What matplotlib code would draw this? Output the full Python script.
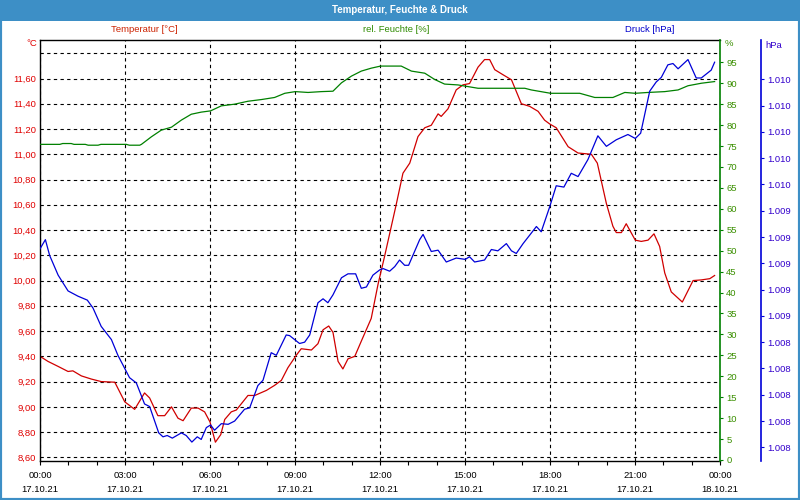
import numpy as np
import matplotlib
matplotlib.use("Agg")
import matplotlib.pyplot as plt
from matplotlib.ticker import MultipleLocator, FuncFormatter
from matplotlib.patches import Rectangle

plt.rcParams['font.family'] = ['Liberation Sans', 'DejaVu Sans']

#------------------------------------------------------------------------------------------
# Messwerte vom 17.10.21 (Zeit in Stunden ab 00:00)
#------------------------------------------------------------------------------------------

temp_hours = [0, 0.28, 0.64, 0.99, 1.16, 1.46, 1.81, 2.16, 2.64, 2.99, 3.34, 3.69, 3.87,
              4.16, 4.40, 4.64, 4.87, 5.05, 5.34, 5.58, 5.81, 6.00, 6.19, 6.38, 6.52,
              6.75, 6.93, 7.34, 7.58, 7.99, 8.28, 8.52, 8.75, 9.05, 9.22, 9.58, 9.81,
              9.99, 10.19, 10.34, 10.52, 10.69, 10.87, 11.11, 11.34, 11.69, 11.93,
              12.16, 12.40, 12.58, 12.81, 13.05, 13.34, 13.58, 13.81, 14.05, 14.16,
              14.40, 14.69, 14.93, 15.16, 15.46, 15.69, 15.87, 16.05, 16.34, 16.64,
              16.99, 17.28, 17.58, 17.81, 17.99, 18.22, 18.64, 18.99, 19.46, 19.67,
              19.99, 20.22, 20.34, 20.52, 20.69, 21.01, 21.22, 21.46, 21.67, 21.87,
              22.05, 22.28, 22.67, 23.05, 23.34, 23.64, 23.81]
temp_values = [9.40, 9.36, 9.32, 9.28, 9.285, 9.245, 9.22, 9.20, 9.195, 9.04, 8.98, 9.11, 9.07,
               8.93, 8.93, 9.00, 8.91, 8.89, 8.99, 8.99, 8.96, 8.88, 8.72, 8.78, 8.90,
               8.96, 8.975, 9.09, 9.09, 9.13, 9.17, 9.21, 9.31, 9.41, 9.46, 9.45, 9.50,
               9.61, 9.64, 9.59, 9.36, 9.30, 9.38, 9.40, 9.52, 9.70, 9.97,
               10.19, 10.43, 10.61, 10.85, 10.93, 11.14, 11.21, 11.23, 11.32, 11.30,
               11.36, 11.51, 11.55, 11.56, 11.69, 11.75, 11.75, 11.67, 11.63, 11.59,
               11.40, 11.38, 11.34, 11.27, 11.24, 11.21, 11.06, 11.01, 11.00, 10.93,
               10.61, 10.43, 10.38, 10.38, 10.45, 10.32, 10.31, 10.32, 10.37, 10.27,
               10.06, 9.91, 9.83, 10.00, 10.005, 10.015, 10.04]

hum_hours = [0, 0.70, 0.80, 1.10, 1.20, 1.60, 1.70, 2.05, 2.15, 3.05, 3.15, 3.52, 3.58,
             3.93, 4.28, 4.64, 4.99, 5.34, 5.69, 6.02, 6.40, 6.87, 7.34, 7.81, 8.28,
             8.64, 9.01, 9.46, 9.93, 10.34, 10.64, 10.99, 11.34, 11.69, 12.02, 12.75,
             13.11, 13.58, 13.93, 14.28, 14.75, 15.46, 17.11, 17.34, 18.02, 19.05,
             19.58, 20.22, 20.64, 21.01, 21.46, 22.05, 22.52, 22.87, 23.34, 23.81]
hum_values = [75.4, 75.4, 75.6, 75.6, 75.4, 75.4, 75.2, 75.2, 75.4, 75.4, 75.2, 75.2, 75.4,
              77.2, 78.8, 79.5, 81.2, 82.6, 83.1, 83.4, 84.6, 85.0, 85.7, 86.1, 86.6,
              87.6, 88.0, 87.8, 88.0, 88.1, 90.1, 91.7, 92.9, 93.6, 94.1, 94.1,
              92.9, 92.4, 90.9, 89.8, 89.6, 88.8, 88.8, 88.4, 87.6, 87.6,
              86.6, 86.6, 87.8, 87.6, 87.8, 88.0, 88.4, 89.4, 90.0, 90.4]

press_hours = [0, 0.19, 0.34, 0.64, 0.99, 1.34, 1.67, 1.87, 2.16, 2.52, 2.75, 3.16, 3.40,
               3.69, 3.87, 4.19, 4.34, 4.49, 4.67, 4.99, 5.16, 5.36, 5.55, 5.69, 5.87,
               6.02, 6.16, 6.40, 6.64, 6.87, 7.22, 7.40, 7.69, 7.87, 8.16, 8.34, 8.69,
               8.81, 9.16, 9.34, 9.52, 9.81, 9.99, 10.16, 10.34, 10.64, 10.87, 11.14,
               11.34, 11.52, 11.75, 11.99, 12.11, 12.34, 12.52, 12.69, 12.87, 13.01,
               13.22, 13.40, 13.52, 13.81, 14.05, 14.34, 14.69, 15.01, 15.16, 15.34,
               15.69, 15.93, 16.16, 16.46, 16.64, 16.81, 17.05, 17.34, 17.52, 17.69,
               17.99, 18.22, 18.49, 18.75, 18.99, 19.34, 19.69, 19.99, 20.34, 20.75,
               21.01, 21.20, 21.52, 21.75, 21.93, 22.16, 22.34, 22.52, 22.87, 23.16,
               23.34, 23.69, 23.81]
press_values = [1009.11, 1009.18, 1009.06, 1008.91, 1008.79, 1008.75, 1008.72, 1008.66,
                1008.52, 1008.42, 1008.30, 1008.13, 1008.09, 1007.93, 1007.91, 1007.71,
                1007.68, 1007.69, 1007.67, 1007.71, 1007.69, 1007.64, 1007.68, 1007.66,
                1007.75, 1007.77, 1007.73, 1007.78, 1007.775, 1007.80, 1007.89, 1007.90,
                1008.07, 1008.11, 1008.32, 1008.30, 1008.455, 1008.45, 1008.39, 1008.40,
                1008.455, 1008.70, 1008.73, 1008.70, 1008.76, 1008.89, 1008.92, 1008.92,
                1008.81, 1008.82, 1008.91, 1008.95, 1008.96, 1008.94, 1008.975, 1009.025,
                1008.985, 1008.985, 1009.09, 1009.18, 1009.22, 1009.09, 1009.10, 1009.01,
                1009.04, 1009.03, 1009.05, 1009.01, 1009.025, 1009.105, 1009.095, 1009.15,
                1009.095, 1009.075, 1009.15, 1009.23, 1009.28, 1009.24, 1009.43, 1009.59,
                1009.58, 1009.685, 1009.66, 1009.79, 1009.97, 1009.89, 1009.94, 1009.98,
                1009.95, 1009.99, 1010.31, 1010.38, 1010.415, 1010.51, 1010.52, 1010.48,
                1010.55, 1010.41, 1010.41, 1010.47, 1010.53]

tick_hours = [0, 3, 6, 9, 12, 15, 18, 21, 24]
tick_labels = ['00:00\n17.10.21', '03:00\n17.10.21', '06:00\n17.10.21', '09:00\n17.10.21',
               '12:00\n17.10.21', '15:00\n17.10.21', '18:00\n17.10.21', '21:00\n17.10.21',
               '00:00\n18.10.21']

title = 'Temperatur, Feuchte & Druck'

FRAME = '#3d8fc6'
RED = '#d00000'
GREEN = '#008000'
BLUE = '#0000d8'

W, H = 800, 500
fig = plt.figure(figsize=(8, 5), dpi=100)
fig.patch.set_facecolor('white')

# Rahmen und Titelleiste
fig.add_artist(Rectangle((0, 1 - 21 / H), 1, 21 / H, transform=fig.transFigure,
                         facecolor=FRAME, edgecolor='none'))
fig.add_artist(Rectangle((0, 0), 1, 1, transform=fig.transFigure, fill=False,
                         edgecolor=FRAME, linewidth=3))
fig.text(0.5, 1 - 10 / H, title, color='white', fontsize=7, fontweight='bold',
         ha='center', va='center')

fig.text(144 / W, 1 - 30 / H, 'Temperatur [°C]', color='#cc2200', fontsize=6.8,
         ha='center', va='center')
fig.text(396 / W, 1 - 30 / H, 'rel. Feuchte [%]', color='#2e8b00', fontsize=6.8,
         ha='center', va='center')
fig.text(650 / W, 1 - 30 / H, 'Druck [hPa]', color='#0000cc', fontsize=6.8,
         ha='center', va='center')

left, right, top, bottom = 40, 720, 40, 461
ax = fig.add_axes([left / W, 1 - bottom / H, (right - left) / W, (bottom - top) / H])

# Temperatur
ax.plot(temp_hours, temp_values, color=RED, linewidth=0.9)
ax.set_xlim(0, 24)
ax.set_ylim(8.571, 11.905)
ax.set_yticks(np.arange(8.6, 11.81, 0.2))
ax.yaxis.set_major_formatter(FuncFormatter(
    lambda v, p: '' if v > 11.7 else f'{v:.2f}'.replace('.', ',')))
ax.tick_params(axis='y', length=0, pad=3, labelsize=6.8, labelcolor='#e00000')
ax.set_xticks(tick_hours)
ax.set_xticklabels(tick_labels, linespacing=1.7)
ax.xaxis.set_minor_locator(MultipleLocator(1))
ax.tick_params(axis='x', which='both', length=3, width=0.8, pad=4, labelsize=6.8)
ax.grid(True, which='major', color='black', linestyle=(0, (3, 3)), linewidth=0.8)
for s in ['left', 'top', 'bottom']:
    ax.spines[s].set_linewidth(1.0)
ax.spines['right'].set_visible(False)
fig.text(37 / W, 1 - 44 / H, '°C', color='#e00000', fontsize=6.8, ha='right', va='center')

# rel. Feuchte
ax2 = ax.twinx()
ax2.plot(hum_hours, hum_values, color=GREEN, linewidth=0.9)
ax2.set_ylim(-0.24, 100.33)
ax2.set_yticks(np.arange(0, 96, 5))
ax2.tick_params(axis='y', length=2.5, width=0.8, pad=2, labelsize=6.8,
                colors=GREEN, labelcolor='#3a8f00')
for s in ['left', 'top', 'bottom']:
    ax2.spines[s].set_visible(False)
ax2.spines['right'].set_color(GREEN)
ax2.spines['right'].set_linewidth(1.2)
fig.text(725 / W, 1 - 44 / H, '%', color='#3a8f00', fontsize=6.8, ha='left', va='center')

# Druck
ax3 = ax.twinx()
ax3.plot(press_hours, press_values, color=BLUE, linewidth=0.9)
ax3.set_ylim(1007.496, 1010.699)
ax3.set_yticks(np.arange(1007.6, 1010.41, 0.2))
ax3.yaxis.set_major_formatter(FuncFormatter(lambda v, p: f'{v:,.0f}'.replace(',', '.')))
ax3.spines['right'].set_position(('axes', (761 - left) / (right - left)))
ax3.spines['right'].set_color(BLUE)
ax3.spines['right'].set_linewidth(1.2)
for s in ['left', 'top', 'bottom']:
    ax3.spines[s].set_visible(False)
ax3.tick_params(axis='y', length=2.5, width=0.8, pad=2, labelsize=6.8,
                colors=BLUE, labelcolor='#3300cc')
fig.text(765 / W, 1 - 45 / H, 'hPa', color='#3300cc', fontsize=6.8, ha='left', va='center')

fig.savefig('out.png', dpi=100)
